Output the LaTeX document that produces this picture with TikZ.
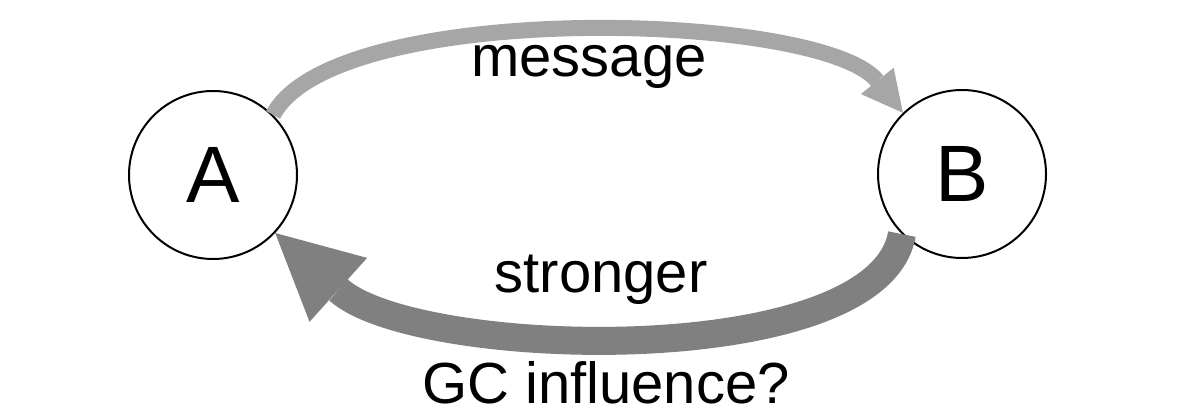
\documentclass[tikz,border=0pt]{standalone}
\usepackage{fontspec}
\setmainfont{Liberation Sans}
\usetikzlibrary{arrows.meta}
\definecolor{msggray}{HTML}{A6A6A6}
\definecolor{strgray}{HTML}{808080}
\tikzset{
  agent/.style={draw=black, line width=2pt, circle, minimum size=168pt, inner sep=0pt, font=\fontsize{80}{96}\selectfont},
  lbl/.style={anchor=base, inner sep=0pt, font=\fontsize{58}{70}\selectfont},
  msgarrow/.style={draw=msggray, line width=16pt, -{Triangle[length=41pt,width=42pt,line width=0pt]}},
  strarrow/.style={draw=strgray, line width=28pt, -{Triangle[length=85pt,width=86pt,line width=0pt]}}
}
\begin{document}
\begin{tikzpicture}[x=1pt,y=-1pt]
\useasboundingbox (0,0) rectangle (1198,419);
\node[agent] (A) at (213,175) {A};
\node[agent] (B) at (962,174) {B};
\draw[msgarrow] (A.45) .. controls +(61,-116) and +(-82,-102) .. (B.134);
\draw[strarrow] (B.225) .. controls +(-24,138) and +(141,127) .. (A.-43);
\node[lbl] (m) at (589,77) {message};
\node[lbl] (s) at (601,293) {stronger};
\node[lbl] (g) at (606,403) {GC influence?};
\end{tikzpicture}
\end{document}
